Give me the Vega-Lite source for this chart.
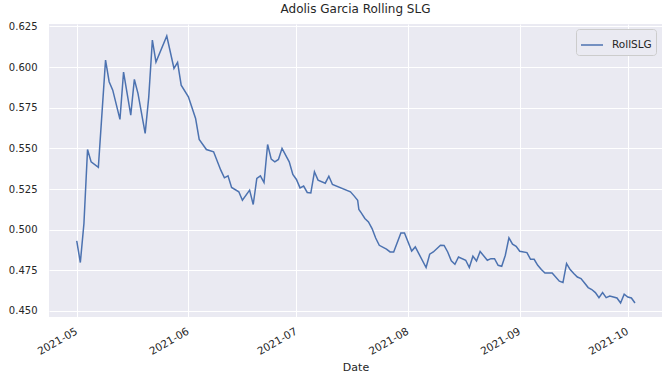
{
  "$schema": "https://vega.github.io/schema/vega-lite/v6.json",
  "autosize": {"type": "none"},
  "padding": {"left": 49, "top": 24, "right": 7, "bottom": 65},
  "width": 613,
  "height": 293,
  "background": "white",
  "title": {"text": "Adolis Garcia Rolling SLG", "font": "DejaVu Sans", "fontSize": 12, "fontWeight": "normal", "color": "#262626", "offset": 5},
  "data": {"values": [
    {"Date": "2021-05-01", "RollSLG": 0.4931},
    {"Date": "2021-05-02", "RollSLG": 0.4798},
    {"Date": "2021-05-03", "RollSLG": 0.5038},
    {"Date": "2021-05-04", "RollSLG": 0.5493},
    {"Date": "2021-05-05", "RollSLG": 0.5417},
    {"Date": "2021-05-07", "RollSLG": 0.5383},
    {"Date": "2021-05-09", "RollSLG": 0.6043},
    {"Date": "2021-05-10", "RollSLG": 0.5910},
    {"Date": "2021-05-11", "RollSLG": 0.5858},
    {"Date": "2021-05-13", "RollSLG": 0.5678},
    {"Date": "2021-05-14", "RollSLG": 0.5969},
    {"Date": "2021-05-16", "RollSLG": 0.5705},
    {"Date": "2021-05-17", "RollSLG": 0.5924},
    {"Date": "2021-05-18", "RollSLG": 0.5838},
    {"Date": "2021-05-20", "RollSLG": 0.5592},
    {"Date": "2021-05-21", "RollSLG": 0.5817},
    {"Date": "2021-05-22", "RollSLG": 0.6166},
    {"Date": "2021-05-23", "RollSLG": 0.6031},
    {"Date": "2021-05-26", "RollSLG": 0.6191},
    {"Date": "2021-05-28", "RollSLG": 0.5992},
    {"Date": "2021-05-29", "RollSLG": 0.6029},
    {"Date": "2021-05-30", "RollSLG": 0.5889},
    {"Date": "2021-06-01", "RollSLG": 0.5817},
    {"Date": "2021-06-03", "RollSLG": 0.5684},
    {"Date": "2021-06-04", "RollSLG": 0.5555},
    {"Date": "2021-06-06", "RollSLG": 0.5493},
    {"Date": "2021-06-08", "RollSLG": 0.5479},
    {"Date": "2021-06-10", "RollSLG": 0.5366},
    {"Date": "2021-06-11", "RollSLG": 0.5319},
    {"Date": "2021-06-12", "RollSLG": 0.5331},
    {"Date": "2021-06-13", "RollSLG": 0.5260},
    {"Date": "2021-06-15", "RollSLG": 0.5233},
    {"Date": "2021-06-16", "RollSLG": 0.5181},
    {"Date": "2021-06-18", "RollSLG": 0.5243},
    {"Date": "2021-06-19", "RollSLG": 0.5155},
    {"Date": "2021-06-20", "RollSLG": 0.5315},
    {"Date": "2021-06-21", "RollSLG": 0.5331},
    {"Date": "2021-06-22", "RollSLG": 0.5290},
    {"Date": "2021-06-23", "RollSLG": 0.5524},
    {"Date": "2021-06-24", "RollSLG": 0.5434},
    {"Date": "2021-06-25", "RollSLG": 0.5417},
    {"Date": "2021-06-26", "RollSLG": 0.5432},
    {"Date": "2021-06-27", "RollSLG": 0.5500},
    {"Date": "2021-06-29", "RollSLG": 0.5417},
    {"Date": "2021-06-30", "RollSLG": 0.5340},
    {"Date": "2021-07-01", "RollSLG": 0.5309},
    {"Date": "2021-07-02", "RollSLG": 0.5257},
    {"Date": "2021-07-03", "RollSLG": 0.5268},
    {"Date": "2021-07-04", "RollSLG": 0.5229},
    {"Date": "2021-07-05", "RollSLG": 0.5226},
    {"Date": "2021-07-06", "RollSLG": 0.5356},
    {"Date": "2021-07-07", "RollSLG": 0.5305},
    {"Date": "2021-07-09", "RollSLG": 0.5286},
    {"Date": "2021-07-10", "RollSLG": 0.5329},
    {"Date": "2021-07-11", "RollSLG": 0.5278},
    {"Date": "2021-07-16", "RollSLG": 0.5233},
    {"Date": "2021-07-17", "RollSLG": 0.5208},
    {"Date": "2021-07-18", "RollSLG": 0.5181},
    {"Date": "2021-07-18T08:00:00Z", "RollSLG": 0.5124},
    {"Date": "2021-07-19", "RollSLG": 0.5103},
    {"Date": "2021-07-20", "RollSLG": 0.5069},
    {"Date": "2021-07-21", "RollSLG": 0.5048},
    {"Date": "2021-07-22", "RollSLG": 0.5007},
    {"Date": "2021-07-23", "RollSLG": 0.4949},
    {"Date": "2021-07-24", "RollSLG": 0.4904},
    {"Date": "2021-07-26", "RollSLG": 0.4880},
    {"Date": "2021-07-27", "RollSLG": 0.4863},
    {"Date": "2021-07-28", "RollSLG": 0.4863},
    {"Date": "2021-07-30", "RollSLG": 0.4980},
    {"Date": "2021-07-31", "RollSLG": 0.4980},
    {"Date": "2021-08-02", "RollSLG": 0.4869},
    {"Date": "2021-08-03", "RollSLG": 0.4894},
    {"Date": "2021-08-06", "RollSLG": 0.4767},
    {"Date": "2021-08-07", "RollSLG": 0.4849},
    {"Date": "2021-08-08", "RollSLG": 0.4863},
    {"Date": "2021-08-10", "RollSLG": 0.4904},
    {"Date": "2021-08-11", "RollSLG": 0.4903},
    {"Date": "2021-08-12", "RollSLG": 0.4863},
    {"Date": "2021-08-13", "RollSLG": 0.4808},
    {"Date": "2021-08-14", "RollSLG": 0.4787},
    {"Date": "2021-08-15", "RollSLG": 0.4832},
    {"Date": "2021-08-17", "RollSLG": 0.4812},
    {"Date": "2021-08-18", "RollSLG": 0.4767},
    {"Date": "2021-08-19", "RollSLG": 0.4837},
    {"Date": "2021-08-20", "RollSLG": 0.4808},
    {"Date": "2021-08-21", "RollSLG": 0.4866},
    {"Date": "2021-08-23", "RollSLG": 0.4812},
    {"Date": "2021-08-24", "RollSLG": 0.4822},
    {"Date": "2021-08-25", "RollSLG": 0.4822},
    {"Date": "2021-08-26", "RollSLG": 0.4781},
    {"Date": "2021-08-27", "RollSLG": 0.4775},
    {"Date": "2021-08-28", "RollSLG": 0.4843},
    {"Date": "2021-08-29", "RollSLG": 0.4950},
    {"Date": "2021-08-30", "RollSLG": 0.4911},
    {"Date": "2021-08-31", "RollSLG": 0.4898},
    {"Date": "2021-09-01", "RollSLG": 0.4867},
    {"Date": "2021-09-03", "RollSLG": 0.4859},
    {"Date": "2021-09-04", "RollSLG": 0.4818},
    {"Date": "2021-09-05", "RollSLG": 0.4818},
    {"Date": "2021-09-06", "RollSLG": 0.4781},
    {"Date": "2021-09-07", "RollSLG": 0.4755},
    {"Date": "2021-09-08", "RollSLG": 0.4734},
    {"Date": "2021-09-10", "RollSLG": 0.4734},
    {"Date": "2021-09-12", "RollSLG": 0.4683},
    {"Date": "2021-09-13", "RollSLG": 0.4675},
    {"Date": "2021-09-14", "RollSLG": 0.4792},
    {"Date": "2021-09-15", "RollSLG": 0.4755},
    {"Date": "2021-09-16", "RollSLG": 0.4730},
    {"Date": "2021-09-17", "RollSLG": 0.4709},
    {"Date": "2021-09-18", "RollSLG": 0.4699},
    {"Date": "2021-09-19", "RollSLG": 0.4672},
    {"Date": "2021-09-20", "RollSLG": 0.4644},
    {"Date": "2021-09-21", "RollSLG": 0.4632},
    {"Date": "2021-09-22", "RollSLG": 0.4613},
    {"Date": "2021-09-23", "RollSLG": 0.4582},
    {"Date": "2021-09-24", "RollSLG": 0.4613},
    {"Date": "2021-09-25", "RollSLG": 0.4582},
    {"Date": "2021-09-26", "RollSLG": 0.4592},
    {"Date": "2021-09-28", "RollSLG": 0.4580},
    {"Date": "2021-09-29", "RollSLG": 0.4549},
    {"Date": "2021-09-30", "RollSLG": 0.4603},
    {"Date": "2021-10-01", "RollSLG": 0.4586},
    {"Date": "2021-10-02", "RollSLG": 0.4580},
    {"Date": "2021-10-03", "RollSLG": 0.4549}
  ]},
  "mark": {"type": "line", "strokeWidth": 1.5, "interpolate": "linear"},
  "encoding": {
    "x": {
      "field": "Date", "type": "temporal", "title": "Date",
      "scale": {"type": "utc", "domain": [1619161920000, 1633867200000], "nice": false},
      "axis": {
        "labelExpr": "utcFormat(datum.value, '%Y-%m')",
        "tickCount": {"interval": "month", "step": 1},
        "labelAngle": -30, "labelAlign": "right", "labelBaseline": "top",
        "labelPadding": 9, "labelOffset": -3, "labelFontSize": 10.5,
        "titleY": 50, "titleBaseline": "middle", "titleFontSize": 11
      }
    },
    "y": {
      "field": "RollSLG", "type": "quantitative", "title": null,
      "scale": {"domain": [0.4463, 0.6265], "nice": false, "zero": false},
      "axis": {
        "values": [0.45, 0.475, 0.5, 0.525, 0.55, 0.575, 0.6, 0.625],
        "format": ".3f", "labelPadding": 12
      }
    },
    "color": {
      "datum": "RollSLG", "type": "nominal",
      "scale": {"range": ["#4c72b0"]},
      "legend": {
        "title": null, "orient": "none", "legendX": 527, "legendY": 5,
        "symbolType": "stroke", "symbolSize": 484, "symbolStrokeWidth": 1.5,
        "labelFont": "DejaVu Sans", "labelFontSize": 10.5, "labelColor": "#262626",
        "labelOffset": 8, "padding": 4,
        "strokeColor": "#cccccc", "fillColor": "#eaeaf2", "cornerRadius": 3
      }
    }
  },
  "config": {
    "font": "DejaVu Sans",
    "view": {"fill": "#eaeaf2", "stroke": null},
    "axis": {
      "domain": false, "ticks": false, "tickSize": 0,
      "grid": true, "gridColor": "#ffffff", "gridWidth": 1, "gridOpacity": 1,
      "labelFont": "DejaVu Sans", "labelFontSize": 10, "labelColor": "#262626",
      "titleFont": "DejaVu Sans", "titleFontWeight": "normal", "titleColor": "#262626"
    }
  }
}
